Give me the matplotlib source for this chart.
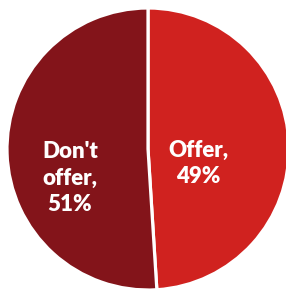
import matplotlib
matplotlib.use("Agg")
import matplotlib.pyplot as plt

categories = ["Offer", "Don't\noffer"]
values = [49, 51]
colors = ["#D0221F", "#83141A"]

fig = plt.figure(figsize=(2.86, 2.91), dpi=100)
ax = fig.add_axes([0, 0, 1, 1])
ax.pie(values, colors=colors, startangle=90, counterclock=False,
       wedgeprops=dict(edgecolor="white", linewidth=2.3))
ax.set_xlim(-148/141, (286-148)/141)
ax.set_ylim(-(291-149)/141, 149/141)
ax.set_aspect("auto")
ax.axis("off")

label_pos = [(0.355, -0.099), (-0.553, -0.206)]
for cat, v, (x, y) in zip(categories, values, label_pos):
    ax.text(x, y, f"{cat},\n{v}%", ha="center", va="center", color="white",
            fontsize=16, fontweight="heavy", family="Lato", linespacing=1.3)

fig.savefig("out.png", dpi=100, facecolor="white")
